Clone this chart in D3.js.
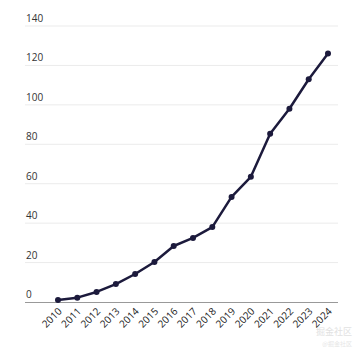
<!DOCTYPE html>
<html>
<head>
<meta charset="utf-8">
<script src="https://cdn.jsdelivr.net/npm/d3@7"></script>
<style>
  body { margin: 0; background: #fff; }
  svg { font-family: "Open Sans", "DejaVu Sans", sans-serif; }
</style>
</head>
<body>
<svg id="chart"></svg>
<script>
// Chart data
const years = ["2010", "2011", "2012", "2013", "2014", "2015", "2016", "2017",
               "2018", "2019", "2020", "2021", "2022", "2023", "2024"];
const values = [1.0, 2.2, 5.1, 9.1, 14.2, 20.3, 28.4, 32.5, 38, 53.3, 63.5, 85.3, 98, 113, 126];
const yTicks = [0, 20, 40, 60, 80, 100, 120, 140];

const width = 360;
const height = 352;

const svg = d3.select("#chart")
    .attr("width", width)
    .attr("height", height);

// Scales
const x = d3.scalePoint()
    .domain(years)
    .range([58, 328]);

const y = d3.scaleLinear()
    .domain([0, 140])
    .range([302, 26]);

const gridLeft = 25;
const gridRight = 338;

// Gridlines and y labels (labels sit above their line)
const grid = svg.append("g");
grid.selectAll("line")
    .data(yTicks.filter(d => d > 0))
    .enter().append("line")
    .attr("x1", gridLeft)
    .attr("x2", gridRight)
    .attr("y1", d => y(d))
    .attr("y2", d => y(d))
    .attr("stroke", "#ebebeb")
    .attr("stroke-width", 1);

grid.selectAll("text")
    .data(yTicks)
    .enter().append("text")
    .attr("x", gridLeft + 1)
    .attr("y", d => y(d) - 4)
    .attr("font-size", 10)
    .attr("fill", "#333")
    .text(d => d);

// Baseline
svg.append("line")
    .attr("x1", gridLeft)
    .attr("x2", gridRight)
    .attr("y1", y(0) + 0.5)
    .attr("y2", y(0) + 0.5)
    .attr("stroke", "#999")
    .attr("stroke-width", 1);

// X axis labels, rotated
const xAxis = svg.append("g")
    .attr("transform", `translate(0,${y(0)})`)
    .call(d3.axisBottom(x).tickSize(0).tickPadding(0));
xAxis.select(".domain").remove();
xAxis.selectAll("text")
    .attr("font-size", 10)
    .attr("fill", "#222")
    .attr("font-family", "\"Open Sans\", sans-serif")
    .attr("text-anchor", "end")
    .attr("dy", null)
    .attr("y", 0)
    .attr("transform", "translate(4,10) rotate(-45)");

// Line
const line = d3.line()
    .x((d, i) => x(years[i]))
    .y(d => y(d));

svg.append("path")
    .datum(values)
    .attr("d", line)
    .attr("fill", "none")
    .attr("stroke", "#1c1a3c")
    .attr("stroke-width", 2.5)
    .attr("stroke-linejoin", "round");

svg.selectAll(".dot")
    .data(values)
    .enter().append("circle")
    .attr("class", "dot")
    .attr("cx", (d, i) => x(years[i]))
    .attr("cy", d => y(d))
    .attr("r", 3)
    .attr("fill", "#1c1a3c");

// faint watermark
svg.append("text")
    .attr("x", 352)
    .attr("y", 335)
    .attr("text-anchor", "end")
    .attr("font-size", 9)
    .attr("font-family", "\"Noto Sans CJK SC\", sans-serif")
    .attr("fill", "#e2e2e2")
    .text("掘金社区");
svg.append("text")
    .attr("x", 352)
    .attr("y", 346)
    .attr("text-anchor", "end")
    .attr("font-size", 6)
    .attr("font-family", "\"Noto Sans CJK SC\", sans-serif")
    .attr("fill", "#e6e6e6")
    .text("@掘金社区");
</script>
</body>
</html>
